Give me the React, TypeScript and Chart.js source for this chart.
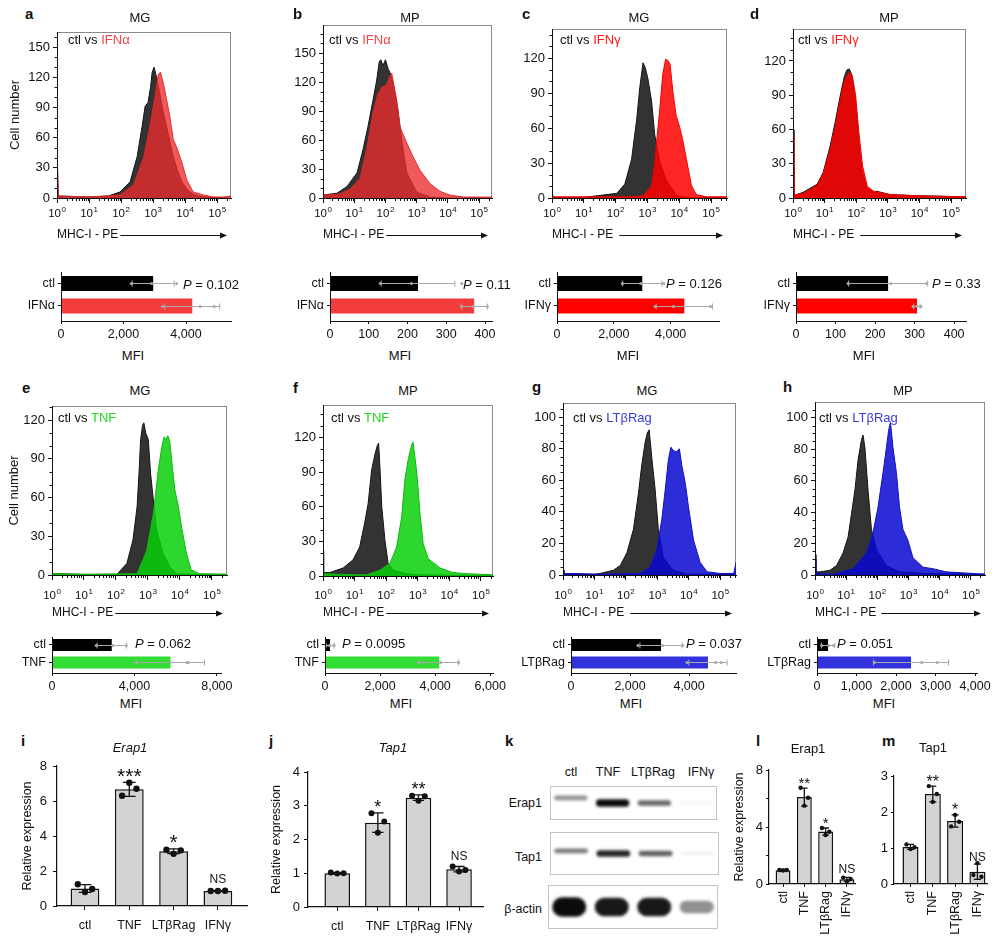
import React, { useEffect, useRef } from "react";
import { Chart, registerables } from "chart.js";

Chart.register(...registerables);

const FONT = '"Liberation Sans", Arial, Helvetica, sans-serif';
const INK = "#111111";

/* ---------- flow cytometry histograms: x = log10(MHC-I PE), y = cell number ---------- */
// a  MG  ctl vs IFNα
const aCtlExp = [0, 0.04, 1.0, 1.6, 1.97, 2.28, 2.5, 2.65, 2.75, 2.84, 2.92, 2.97, 3.03, 3.12, 3.2, 3.3, 3.44, 3.6, 3.75, 3.9, 4.1, 4.3, 4.6, 5.43];
const aCtlCnt = [50, 2, 1, 2, 6, 16, 41, 70, 91, 95, 110, 125, 130, 118, 105, 88, 68, 45, 28, 16, 7, 3, 1, 0];
const aIfnExp = [0, 0.04, 1.0, 1.5, 1.97, 2.39, 2.7, 2.9, 3.06, 3.16, 3.23, 3.34, 3.42, 3.52, 3.63, 3.73, 3.9, 4.05, 4.25, 4.57, 4.88, 5.2, 5.43];
const aIfnCnt = [45, 2, 1, 2, 3, 13, 40, 71, 101, 123, 125, 111, 98, 81, 58, 51, 35, 18, 6, 3, 1, 1, 2];
// b  MP  ctl vs IFNα
const bCtlExp = [0, 0.45, 0.77, 1.09, 1.28, 1.44, 1.6, 1.72, 1.8, 1.85, 1.92, 2.0, 2.08, 2.14, 2.24, 2.4, 2.52, 2.68, 3.0, 3.42, 4.0, 5.41];
const bCtlCnt = [3, 5, 12, 26, 50, 74, 101, 122, 141, 143, 137, 143, 134, 130, 120, 91, 60, 26, 6, 1, 0, 0];
const bIfnExp = [0, 0.5, 0.86, 1.18, 1.4, 1.6, 1.76, 1.9, 2.04, 2.14, 2.2, 2.24, 2.36, 2.46, 2.68, 2.88, 3.1, 3.42, 3.74, 4.06, 4.5, 5.41];
const bIfnCnt = [3, 4, 9, 20, 50, 88, 108, 115, 117, 126, 129, 122, 101, 74, 57, 43, 29, 15, 7, 3, 1, 1];
// c  MG  ctl vs IFNγ
const cCtlExp = [0, 0.04, 1.0, 2.04, 2.29, 2.5, 2.66, 2.76, 2.86, 2.93, 3.01, 3.13, 3.23, 3.39, 3.6, 3.92, 4.3, 5.5];
const cCtlCnt = [3, 0.5, 0.5, 4, 12, 33, 67, 95, 116, 112, 103, 83, 54, 31, 15, 2, 0.5, 0.5];
const cIfnExp = [0, 0.04, 1.0, 2.5, 2.86, 3.13, 3.23, 3.29, 3.39, 3.48, 3.57, 3.64, 3.71, 3.8, 3.9, 4.01, 4.1, 4.22, 4.38, 4.53, 4.84, 5.5];
const cIfnCnt = [5, 1, 1, 1, 2, 10, 30, 49, 77, 106, 119, 118, 115, 91, 71, 61, 51, 34, 11, 3, 1, 1];
// d  MP  ctl vs IFNγ
const dCtlExp = [0, 0.03, 0.12, 0.32, 0.76, 0.95, 1.17, 1.33, 1.49, 1.62, 1.7, 1.78, 1.86, 1.97, 2.07, 2.17, 2.33, 2.54, 2.64, 3.06, 3.9, 5.47];
const dCtlCnt = [60, 3, 3, 5, 12, 22, 45, 66, 89, 106, 112, 113, 108, 86, 51, 25, 9, 5, 6, 3, 2, 1];
const dIfnExp = [0, 0.03, 0.12, 0.32, 0.76, 0.95, 1.17, 1.33, 1.49, 1.62, 1.72, 1.8, 1.88, 1.98, 2.08, 2.2, 2.35, 2.55, 2.7, 3.1, 3.9, 5.47];
const dIfnCnt = [55, 3, 3, 4, 11, 21, 42, 62, 85, 102, 108, 110, 106, 90, 58, 28, 10, 6, 5, 3, 2, 1];
// e  MG  ctl vs TNF
const eCtlExp = [0, 0.04, 1.0, 2.03, 2.34, 2.53, 2.66, 2.72, 2.77, 2.83, 2.87, 2.93, 3.01, 3.08, 3.19, 3.27, 3.47, 3.69, 3.9, 4.5, 5.47];
const eCtlCnt = [2, 1, 0.5, 0.5, 9, 27, 53, 79, 105, 116, 118, 110, 105, 79, 53, 35, 17, 6, 1, 0.5, 0.5];
const eTnfExp = [0, 0.04, 1.0, 2.66, 2.96, 3.17, 3.32, 3.43, 3.5, 3.56, 3.62, 3.68, 3.74, 3.84, 3.95, 4.05, 4.2, 4.35, 4.6, 5.47];
const eTnfCnt = [3, 1, 0.5, 1, 19, 48, 81, 99, 107, 105, 108, 104, 89, 66, 53, 37, 17, 4, 1, 0.5];
// f  MP  ctl vs TNF
const fCtlExp = [0, 0.02, 0.22, 0.64, 0.95, 1.16, 1.32, 1.43, 1.54, 1.65, 1.72, 1.76, 1.8, 1.86, 1.96, 2.06, 2.22, 2.65, 3.07, 5.38];
const fCtlCnt = [22, 3, 3, 7, 14, 25, 46, 63, 92, 106, 113, 115, 95, 60, 31, 11, 5, 2, 1, 0.5];
const fTnfExp = [0, 0.02, 1.0, 1.38, 1.8, 2.12, 2.33, 2.49, 2.59, 2.69, 2.8, 2.85, 2.97, 3.07, 3.17, 3.33, 3.7, 4.11, 4.55, 5.38];
const fTnfCnt = [15, 2, 1, 1, 5, 11, 25, 51, 83, 100, 113, 116, 89, 54, 28, 15, 7, 3, 2, 1];
// g  MG  ctl vs LTβRag
const gCtlExp = [0, 0.03, 1.0, 1.18, 1.6, 1.82, 2.03, 2.24, 2.4, 2.5, 2.61, 2.68, 2.74, 2.82, 2.93, 3.03, 3.19, 3.5, 3.93, 5.5];
const gCtlCnt = [3, 1, 0.5, 1, 3, 6, 14, 29, 52, 69, 84, 90, 92, 75, 54, 29, 11, 3, 0.5, 0.5];
const gLtbExp = [0, 0.03, 1.0, 2.45, 2.77, 2.98, 3.14, 3.25, 3.35, 3.43, 3.5, 3.6, 3.7, 3.78, 3.89, 3.99, 4.15, 4.36, 4.58, 5.0, 5.43, 5.5];
const gLtbCnt = [3, 1, 0.5, 1, 5, 16, 35, 54, 73, 81, 79, 78, 80, 69, 58, 43, 22, 8, 2, 1, 1, 8];
// h  MP  ctl vs LTβRag
const hCtlExp = [0, 0.03, 0.16, 0.48, 0.69, 0.9, 1.06, 1.17, 1.28, 1.38, 1.49, 1.54, 1.6, 1.7, 1.81, 1.97, 2.29, 2.71, 3.5, 5.45];
const hCtlCnt = [13, 2, 2, 3, 6, 14, 24, 39, 54, 73, 86, 89, 81, 54, 29, 16, 6, 2, 1, 0.5];
const hLtbExp = [0, 0.03, 0.58, 1.22, 1.65, 1.86, 2.02, 2.18, 2.29, 2.36, 2.42, 2.5, 2.61, 2.71, 2.82, 2.98, 3.14, 3.46, 3.78, 4.2, 5.45];
const hLtbCnt = [10, 1, 0.5, 4, 14, 27, 43, 65, 81, 92, 97, 81, 65, 43, 29, 22, 11, 5, 4, 2, 0.5];

const decadeTicks = [1, 10, 100, 1000, 10000, 100000];
const decadeExps = ["0", "1", "2", "3", "4", "5"];
const yTicks150 = [0, 30, 60, 90, 120, 150];
const yTicks120 = [0, 30, 60, 90, 120];
const yTicks100 = [0, 20, 40, 60, 80, 100];

/* ---------- MFI bar charts ---------- */
const catsIFNa = ["ctl", "IFNα"];
const catsIFNg = ["ctl", "IFNγ"];
const catsTNF = ["ctl", "TNF"];
const catsLTb = ["ctl", "LTβRag"];
const aMfi = [2950, 4200], aMfiSd = [670, 880], aMfiPts = [[2250, 2900, 3700], [3250, 4450, 4900]];
const bMfi = [227, 372], bMfiSd = [95, 34], bMfiPts = [[130, 210, 340], [340, 370, 406]];
const cMfi = [3000, 4480], cMfiSd = [690, 990], cMfiPts = [[2300, 2950, 3750], [3450, 4100, 5400]];
const dMfi = [233, 306], dMfiSd = [100, 8], dMfiPts = [[132, 240, 330], [296, 306, 316]];
const eMfi = [2900, 5750], eMfiSd = [710, 1650], eMfiPts = [[2150, 2950, 3600], [4100, 6600, 6550]];
const fMfi = [180, 4150], fMfiSd = [150, 700], fMfiPts = [[40, 170, 330], [3400, 4200, 4850]];
const gMfi = [3050, 4640], gMfiSd = [715, 650], gMfiPts = [[2270, 3100, 3780], [3930, 4900, 5090]];
const hMfi = [280, 2380], hMfiSd = [170, 950], hMfiPts = [[120, 300, 420], [1450, 2650, 3040]];
const mfiTicks4k = [0, 2000, 4000];
const mfiTicks400 = [0, 100, 200, 300, 400];
const mfiTicks8k = [0, 4000, 8000];
const mfiTicks6k = [0, 2000, 4000, 6000];
const mfiTicks4kFine = [0, 1000, 2000, 3000, 4000];
const pVals = ["0.102", "0.11", "0.126", "0.33", "0.062", "0.0095", "0.037", "0.051"];

/* ---------- relative expression (qPCR i, j; western quantification l, m) ---------- */
const geneCats = ["ctl", "TNF", "LTβRag", "IFNγ"];
const erapMrna = [1.0, 6.67, 3.13, 0.86];
const erapMrnaSd = [0.22, 0.4, 0.13, 0.02];
const erapMrnaPts = [[1.24, 0.8, 0.97], [6.3, 7.05, 6.7], [3.22, 2.98, 3.18], [0.86, 0.86, 0.87]];
const erapMrnaSig = ["", "***", "*", "NS"];
const tapMrna = [1.0, 2.5, 3.24, 1.12];
const tapMrnaSd = [0.02, 0.29, 0.08, 0.08];
const tapMrnaPts = [[1.02, 0.99, 1.0], [2.78, 2.2, 2.53], [3.3, 3.15, 3.28], [1.2, 1.05, 1.1]];
const tapMrnaSig = ["", "*", "**", "NS"];
const erapProt = [0.97, 6.1, 3.68, 0.33];
const erapProtSd = [0.05, 0.63, 0.25, 0.13];
const erapProtPts = [[0.98, 0.95, 0.98], [6.75, 5.5, 6.05], [3.93, 3.44, 3.67], [0.45, 0.2, 0.35]];
const erapProtSig = ["", "**", "*", "NS"];
const tapProt = [1.03, 2.5, 1.75, 0.34];
const tapProtSd = [0.07, 0.22, 0.17, 0.21];
const tapProtPts = [[1.1, 0.97, 1.02], [2.72, 2.28, 2.5], [1.6, 1.92, 1.73], [0.25, 0.58, 0.2]];
const tapProtSig = ["", "**", "*", "NS"];

/* ---------- western blot band densities (k) ---------- */
const blotLanes = ["ctl", "TNF", "LTβRag", "IFNγ"];
const blotErapInt = [0.45, 1.0, 0.62, 0.05];
const blotErapPos = [0.65, 0.5, 0.5, 0.5];
const blotTapInt = [0.55, 0.9, 0.65, 0.07];
const blotTapPos = [0.56, 0.5, 0.5, 0.5];
const blotActInt = [1.0, 0.95, 0.95, 0.45];
const blotActPos = [0.5, 0.5, 0.5, 0.5];

/* ======================= helpers ======================= */
type Box = { x0: number; y0: number; x1: number; y1: number; l: number; t: number; r: number; b: number };
const rectOf = (b: Box) => ({ left: b.x0 - b.l, top: b.y0 - b.t, width: b.x1 - b.x0 + b.l + b.r, height: b.y1 - b.y0 + b.t + b.b });
const fixX = (b: Box) => (sc: any) => { sc.height = b.b; sc.paddingLeft = 0; sc.paddingRight = 0; };
const fixY = (b: Box) => (sc: any) => { sc.width = b.l; sc.paddingTop = 0; sc.paddingBottom = 0; };
const setTicks = (vals: number[]) => (sc: any) => { sc.ticks = vals.map((v) => ({ value: v })); };
const baseOpts = (b: Box) => ({
  responsive: false,
  animation: false,
  events: [],
  layout: { autoPadding: false, padding: { left: 0, top: b.t, right: b.r, bottom: 0 } },
  plugins: { legend: { display: false }, tooltip: { enabled: false } },
});

const RED_A = "rgba(236,44,44,0.78)", RED_A_LINE = "rgba(225,40,40,0.95)";
const RED_C = "rgba(255,0,0,0.85)", RED_C_LINE = "#ee0000";
const GREEN = "rgba(8,208,8,0.85)", GREEN_LINE = "#10b810";
const BLUE = "rgba(8,8,208,0.85)", BLUE_LINE = "#1010c0";
const CTL_FILL = "rgba(38,38,38,0.94)";

function histChart(o: any) {
  const b: Box = o.box;
  const r = rectOf(b);
  const lhX = 12 * 1.2, lhY = 13 * 1.2;
  const pts = (ex: number[], cn: number[]) => ex.map((e, i) => ({ x: Math.pow(10, e), y: cn[i] }));
  const decor = {
    id: "histDecor",
    beforeDatasetsDraw(chart: any) {
      const { ctx, chartArea: a } = chart;
      ctx.save();
      ctx.strokeStyle = "#8a8a8a";
      ctx.lineWidth = 1;
      ctx.strokeRect(Math.round(a.left) + 0.5, Math.round(a.top) + 0.5, Math.round(a.right - a.left) - 1, Math.round(a.bottom - a.top));
      ctx.restore();
    },
    afterDraw(chart: any) {
      const { ctx, chartArea: a, scales } = chart;
      const xs = scales.x, ys = scales.y;
      ctx.save();
      ctx.strokeStyle = INK;
      ctx.fillStyle = INK;
      ctx.lineWidth = 1;
      ctx.beginPath();
      for (let n = 0; n < 6; n++) {
        for (let k = 2; k < 10; k++) {
          const v = k * Math.pow(10, n);
          if (v > xs.max) continue;
          const px = Math.round(xs.getPixelForValue(v)) + 0.5;
          ctx.moveTo(px, a.bottom);
          ctx.lineTo(px, a.bottom + 3);
        }
      }
      for (let v = o.yMinor; v < ys.max; v += o.yMinor) {
        if (o.yTicks.indexOf(v) >= 0) continue;
        const py = Math.round(ys.getPixelForValue(v)) + 0.5;
        ctx.moveTo(a.left - 2.5, py);
        ctx.lineTo(a.left, py);
      }
      ctx.stroke();
      // decade tick labels: 10 with a raised exponent
      ctx.textAlign = "left";
      ctx.textBaseline = "alphabetic";
      const yb = a.bottom + o.labelBase;
      decadeTicks.forEach((v, i) => {
        const px = xs.getPixelForValue(v);
        ctx.font = `11.5px ${FONT}`;
        const w1 = ctx.measureText("10").width;
        ctx.font = `8px ${FONT}`;
        const w2 = ctx.measureText(decadeExps[i]).width;
        const x0 = px - (w1 + w2 + 0.5) / 2;
        ctx.font = `11.5px ${FONT}`;
        ctx.fillText("10", x0, yb);
        ctx.font = `8px ${FONT}`;
        ctx.fillText(decadeExps[i], x0 + w1 + 0.5, yb - 5);
      });
      // axis title arrow
      ctx.font = `12px ${FONT}`;
      const w = ctx.measureText("MHC-I - PE").width;
      const yA = Math.round(o.titleY - r.top) + 0.5;
      const xs0 = a.left + w + o.arrowGap;
      const xe = a.right - 4;
      ctx.beginPath();
      ctx.moveTo(xs0, yA);
      ctx.lineTo(xe - 5, yA);
      ctx.stroke();
      ctx.beginPath();
      ctx.moveTo(xe, yA);
      ctx.lineTo(xe - 7, yA - 3);
      ctx.lineTo(xe - 7, yA + 3);
      ctx.closePath();
      ctx.fill();
      ctx.restore();
    },
  };
  return {
    rect: r,
    build: () => ({
      type: "line",
      data: {
        datasets: [
          { data: pts(o.trtExp, o.trtCnt), fill: "origin", backgroundColor: o.fill, borderColor: o.line, borderWidth: 1, pointRadius: 0, tension: 0 },
          { data: pts(o.ctlExp, o.ctlCnt), fill: "origin", backgroundColor: CTL_FILL, borderColor: "#141414", borderWidth: 1, pointRadius: 0, tension: 0 },
        ],
      },
      options: {
        ...baseOpts(b),
        scales: {
          x: {
            type: "logarithmic", min: 1, max: Math.pow(10, o.xMaxExp), bounds: "data",
            afterBuildTicks: setTicks(decadeTicks), afterFit: fixX(b),
            ticks: { display: false, autoSkip: false, maxRotation: 0, minRotation: 0 },
            grid: { drawOnChartArea: false, drawTicks: true, tickLength: 5, color: INK, lineWidth: 1 },
            border: { display: true, color: INK, width: 1, z: 1 },
            title: { display: true, text: "MHC-I - PE", align: "start", color: INK, font: { family: FONT, size: 12 }, padding: { top: 0, bottom: r.top + r.height - o.titleY - lhX / 2 } },
          },
          y: {
            type: "linear", min: 0, max: o.yMax, bounds: "data",
            afterBuildTicks: setTicks(o.yTicks), afterFit: fixY(b),
            ticks: { padding: 3, color: INK, font: { family: FONT, size: 13 } },
            grid: { drawOnChartArea: false, tickLength: 4, color: INK },
            border: { color: INK, z: 1 },
            title: o.yTitle
              ? { display: true, text: o.yTitle, color: INK, font: { family: FONT, size: 13 }, padding: { top: o.yTitleX - r.left - lhY / 2, bottom: 0 } }
              : { display: false },
          },
        },
      },
      plugins: [decor],
    }),
  };
}

function hbarChart(o: any) {
  const b: Box = o.box;
  const r = rectOf(b);
  const err = {
    id: "hErr",
    afterDatasetsDraw(chart: any) {
      const { ctx } = chart;
      const xs = chart.scales.x;
      const meta = chart.getDatasetMeta(0);
      ctx.save();
      ctx.strokeStyle = "#a9a9a9";
      ctx.fillStyle = "#a9a9a9";
      ctx.lineWidth = 1;
      meta.data.forEach((el: any, i: number) => {
        const y = Math.round(el.y) + 0.5;
        const lo = xs.getPixelForValue(Math.max(0, o.values[i] - o.sds[i]));
        const hi = xs.getPixelForValue(o.values[i] + o.sds[i]);
        ctx.beginPath();
        ctx.moveTo(lo, y); ctx.lineTo(hi, y);
        ctx.moveTo(lo, y - 3); ctx.lineTo(lo, y + 3);
        ctx.moveTo(hi, y - 3); ctx.lineTo(hi, y + 3);
        ctx.stroke();
        o.pts[i].forEach((v: number) => {
          ctx.beginPath();
          ctx.arc(xs.getPixelForValue(v), y, 1.6, 0, Math.PI * 2);
          ctx.fill();
        });
      });
      ctx.restore();
    },
  };
  return {
    rect: r,
    build: () => ({
      type: "bar",
      data: {
        datasets: [{ data: o.values.map((v: number, i: number) => ({ x: v, y: i })), backgroundColor: o.colors, borderWidth: 0, barPercentage: o.barPct, categoryPercentage: 1 }],
      },
      options: {
        ...baseOpts(b),
        indexAxis: "y",
        scales: {
          x: {
            type: "linear", position: "bottom", min: 0, max: o.xMax, bounds: "data", offset: false,
            afterBuildTicks: setTicks(o.xTicks), afterFit: fixX(b),
            ticks: { autoSkip: false, maxRotation: 0, padding: 3, color: INK, font: { family: FONT, size: 12.5 }, callback: (v: number) => Number(v).toLocaleString("en-US") },
            grid: { offset: false, drawOnChartArea: false, tickLength: 3, color: INK },
            border: { color: INK, z: 1 },
          },
          y: {
            type: "linear", position: "left", reverse: true, min: o.yMin, max: o.yMax, bounds: "data", offset: false,
            afterBuildTicks: setTicks(o.cats.map((_: string, i: number) => i)), afterFit: fixY(b),
            ticks: { autoSkip: false, padding: 3, color: INK, font: { family: FONT, size: 12.5 }, callback: (v: number) => o.cats[v] ?? "" },
            grid: { offset: false, drawOnChartArea: false, tickLength: 3, color: INK },
            border: { color: INK, z: 1 },
          },
        },
      },
      plugins: [err],
    }),
  };
}

const JIT = [-0.25, 0, 0.25];

function vbarChart(o: any) {
  const b: Box = o.box;
  const r = rectOf(b);
  const lhY = 12.5 * 1.2;
  const err = {
    id: "vErr",
    afterDatasetsDraw(chart: any) {
      const { ctx } = chart;
      const ys = chart.scales.y;
      const meta = chart.getDatasetMeta(0);
      ctx.save();
      ctx.strokeStyle = INK;
      ctx.fillStyle = INK;
      ctx.lineWidth = 1.3;
      meta.data.forEach((el: any, i: number) => {
        const x = el.x, w = el.width;
        const lo = ys.getPixelForValue(o.means[i] - o.sds[i]);
        const hi = ys.getPixelForValue(o.means[i] + o.sds[i]);
        const cw = w * 0.22;
        ctx.beginPath();
        ctx.moveTo(x, lo); ctx.lineTo(x, hi);
        ctx.moveTo(x - cw, lo); ctx.lineTo(x + cw, lo);
        ctx.moveTo(x - cw, hi); ctx.lineTo(x + cw, hi);
        ctx.stroke();
        let top = hi;
        o.pts[i].forEach((v: number, k: number) => {
          const py = ys.getPixelForValue(v);
          top = Math.min(top, py);
          ctx.beginPath();
          ctx.arc(x + JIT[k] * w, py, o.dotR, 0, Math.PI * 2);
          ctx.fill();
        });
        const sig = o.sig[i];
        if (sig) {
          const star = sig.charAt(0) === "*";
          ctx.font = `${star ? o.starSize : 12}px ${FONT}`;
          ctx.textAlign = "center";
          ctx.textBaseline = "alphabetic";
          ctx.fillText(sig, x, star ? top + 0.5 : top - o.nsOff);
        }
      });
      ctx.restore();
    },
  };
  return {
    rect: r,
    build: () => ({
      type: "bar",
      data: {
        datasets: [{ data: o.means.map((v: number, i: number) => ({ x: i, y: v })), backgroundColor: "#d3d3d3", borderColor: INK, borderWidth: 1.5, barPercentage: o.barPct, categoryPercentage: 1 }],
      },
      options: {
        ...baseOpts(b),
        scales: {
          x: {
            type: "linear", min: o.xMin, max: o.xMax, bounds: "data", offset: false,
            afterBuildTicks: setTicks(o.cats.map((_: string, i: number) => i)), afterFit: fixX(b),
            ticks: { autoSkip: false, minRotation: o.rotate ? 90 : 0, maxRotation: o.rotate ? 90 : 0, padding: o.rotate ? 4 : 8, color: INK, font: { family: FONT, size: 12.5 }, callback: (v: number) => o.cats[v] ?? "" },
            grid: { offset: false, drawOnChartArea: false, tickLength: o.rotate ? 3 : 4, color: INK },
            border: { color: INK, width: 1.2, z: 1 },
          },
          y: {
            type: "linear", min: 0, max: o.yMax, bounds: "data",
            afterBuildTicks: setTicks(o.yTicks), afterFit: fixY(b),
            ticks: { padding: o.yPad, color: INK, font: { family: FONT, size: 13 }, callback: (v: number) => (o.yLabels.indexOf(v) >= 0 ? String(v) : "") },
            grid: { drawOnChartArea: false, tickLength: o.rotate ? 3 : 4, color: INK },
            border: { color: INK, width: 1.2, z: 1 },
            title: o.yTitle
              ? { display: true, text: o.yTitle, color: INK, font: { family: FONT, size: 12.5 }, padding: { top: o.yTitleX - r.left - lhY / 2, bottom: 0 } }
              : { display: false },
          },
        },
      },
      plugins: [err],
    }),
  };
}

function blotChart(b: Box, intens: number[], pos: number[], halfH: number) {
  const r = rectOf(b);
  const fx = {
    id: "blotFx",
    beforeDatasetsDraw(chart: any) {
      chart.ctx.save();
      chart.ctx.filter = "blur(1.6px)";
    },
    afterDatasetsDraw(chart: any) {
      const { ctx, chartArea: a } = chart;
      ctx.restore();
      ctx.save();
      ctx.strokeStyle = "#c4c4c4";
      ctx.lineWidth = 1;
      ctx.strokeRect(Math.round(a.left) + 0.5, Math.round(a.top) + 0.5, Math.round(a.right - a.left) - 1, Math.round(a.bottom - a.top) - 1);
      ctx.restore();
    },
  };
  return {
    rect: r,
    build: () => ({
      type: "bar",
      data: {
        labels: blotLanes,
        datasets: [{
          data: intens.map((v, i) => [pos[i] - halfH * (0.35 + 0.65 * v), pos[i] + halfH * (0.35 + 0.65 * v)]),
          backgroundColor: intens.map((v) => `rgba(12,12,12,${v})`),
          borderWidth: 0, borderRadius: 10, borderSkipped: false, barPercentage: 0.8, categoryPercentage: 1,
        }],
      },
      options: {
        ...baseOpts(b),
        layout: { autoPadding: false, padding: { left: b.l, top: b.t, right: b.r, bottom: b.b } },
        scales: { x: { display: false }, y: { display: false, min: 0, max: 1 } },
      },
      plugins: [fx],
    }),
  };
}

/* ======================= chart specs ======================= */
const T1 = 235, T2 = 613;
const specs = [
  histChart({ box: { x0: 57, y0: 32, x1: 231, y1: 198, l: 57, t: 6, r: 8, b: 47 }, yMax: 165, yTicks: yTicks150, yMinor: 10, xMaxExp: 5.43, ctlExp: aCtlExp, ctlCnt: aCtlCnt, trtExp: aIfnExp, trtCnt: aIfnCnt, fill: RED_A, line: RED_A_LINE, yTitle: "Cell number", yTitleX: 15, titleY: T1, arrowGap: 2, labelBase: 19.3 }),
  histChart({ box: { x0: 323, y0: 25, x1: 492, y1: 198, l: 40, t: 5, r: 6, b: 47 }, yMax: 179, yTicks: yTicks150, yMinor: 10, xMaxExp: 5.41, ctlExp: bCtlExp, ctlCnt: bCtlCnt, trtExp: bIfnExp, trtCnt: bIfnCnt, fill: RED_A, line: RED_A_LINE, titleY: T1, arrowGap: 2, labelBase: 19.3 }),
  histChart({ box: { x0: 552, y0: 29, x1: 727, y1: 198, l: 40, t: 5, r: 8, b: 47 }, yMax: 145, yTicks: yTicks120, yMinor: 10, xMaxExp: 5.5, ctlExp: cCtlExp, ctlCnt: cCtlCnt, trtExp: cIfnExp, trtCnt: cIfnCnt, fill: RED_C, line: RED_C_LINE, titleY: T1, arrowGap: 6, labelBase: 19.3 }),
  histChart({ box: { x0: 793, y0: 29, x1: 966, y1: 198, l: 40, t: 5, r: 8, b: 47 }, yMax: 148, yTicks: yTicks120, yMinor: 10, xMaxExp: 5.47, ctlExp: dCtlExp, ctlCnt: dCtlCnt, trtExp: dIfnExp, trtCnt: dIfnCnt, fill: RED_C, line: RED_C_LINE, titleY: T1, arrowGap: 6, labelBase: 19.3 }),
  histChart({ box: { x0: 52, y0: 406, x1: 227, y1: 575, l: 52, t: 5, r: 8, b: 47 }, yMax: 131, yTicks: yTicks120, yMinor: 10, xMaxExp: 5.47, ctlExp: eCtlExp, ctlCnt: eCtlCnt, trtExp: eTnfExp, trtCnt: eTnfCnt, fill: GREEN, line: GREEN_LINE, yTitle: "Cell number", yTitleX: 14, titleY: T2, arrowGap: 2, labelBase: 23.5 }),
  histChart({ box: { x0: 323, y0: 405, x1: 493, y1: 576, l: 40, t: 5, r: 6, b: 47 }, yMax: 148, yTicks: yTicks120, yMinor: 10, xMaxExp: 5.38, ctlExp: fCtlExp, ctlCnt: fCtlCnt, trtExp: fTnfExp, trtCnt: fTnfCnt, fill: GREEN, line: GREEN_LINE, titleY: T2, arrowGap: 2, labelBase: 22.5 }),
  histChart({ box: { x0: 563, y0: 403, x1: 736, y1: 575, l: 40, t: 5, r: 8, b: 47 }, yMax: 109, yTicks: yTicks100, yMinor: 5, xMaxExp: 5.5, ctlExp: gCtlExp, ctlCnt: gCtlCnt, trtExp: gLtbExp, trtCnt: gLtbCnt, fill: BLUE, line: BLUE_LINE, titleY: T2, arrowGap: 6, labelBase: 23.5 }),
  histChart({ box: { x0: 815, y0: 402, x1: 985, y1: 575, l: 40, t: 5, r: 8, b: 47 }, yMax: 110, yTicks: yTicks100, yMinor: 5, xMaxExp: 5.45, ctlExp: hCtlExp, ctlCnt: hCtlCnt, trtExp: hLtbExp, trtCnt: hLtbCnt, fill: BLUE, line: BLUE_LINE, titleY: T2, arrowGap: 5, labelBase: 23.5 }),

  hbarChart({ box: { x0: 61, y0: 272, x1: 231, y1: 321, l: 58, t: 3, r: 8, b: 22 }, cats: catsIFNa, values: aMfi, sds: aMfiSd, pts: aMfiPts, colors: ["#000000", "#f43c3c"], xMax: 5440, xTicks: mfiTicks4k, yMin: -0.51, yMax: 1.67, barPct: 0.667 }),
  hbarChart({ box: { x0: 330, y0: 272, x1: 492, y1: 321, l: 58, t: 3, r: 8, b: 22 }, cats: catsIFNa, values: bMfi, sds: bMfiSd, pts: bMfiPts, colors: ["#000000", "#f43c3c"], xMax: 418, xTicks: mfiTicks400, yMin: -0.51, yMax: 1.67, barPct: 0.667 }),
  hbarChart({ box: { x0: 557, y0: 272, x1: 719, y1: 321, l: 58, t: 3, r: 8, b: 22 }, cats: catsIFNg, values: cMfi, sds: cMfiSd, pts: cMfiPts, colors: ["#000000", "#ff0000"], xMax: 5700, xTicks: mfiTicks4k, yMin: -0.51, yMax: 1.67, barPct: 0.667 }),
  hbarChart({ box: { x0: 796, y0: 272, x1: 966, y1: 321, l: 58, t: 3, r: 12, b: 22 }, cats: catsIFNg, values: dMfi, sds: dMfiSd, pts: dMfiPts, colors: ["#000000", "#ff0000"], xMax: 430, xTicks: mfiTicks400, yMin: -0.51, yMax: 1.67, barPct: 0.667 }),
  hbarChart({ box: { x0: 52, y0: 637, x1: 221, y1: 673, l: 52, t: 3, r: 20, b: 22 }, cats: catsTNF, values: eMfi, sds: eMfiSd, pts: eMfiPts, colors: ["#000000", "#33dd33"], xMax: 8200, xTicks: mfiTicks8k, yMin: -0.457, yMax: 1.6, barPct: 0.686 }),
  hbarChart({ box: { x0: 325, y0: 637, x1: 493, y1: 673, l: 58, t: 3, r: 14, b: 22 }, cats: catsTNF, values: fMfi, sds: fMfiSd, pts: fMfiPts, colors: ["#000000", "#33dd33"], xMax: 6100, xTicks: mfiTicks6k, yMin: -0.457, yMax: 1.6, barPct: 0.686 }),
  hbarChart({ box: { x0: 571, y0: 637, x1: 736, y1: 673, l: 58, t: 3, r: 8, b: 22 }, cats: catsLTb, values: gMfi, sds: gMfiSd, pts: gMfiPts, colors: ["#000000", "#3232dc"], xMax: 5590, xTicks: mfiTicks4k, yMin: -0.457, yMax: 1.6, barPct: 0.686 }),
  hbarChart({ box: { x0: 817, y0: 637, x1: 977, y1: 673, l: 58, t: 3, r: 18, b: 22 }, cats: catsLTb, values: hMfi, sds: hMfiSd, pts: hMfiPts, colors: ["#000000", "#3232dc"], xMax: 4050, xTicks: mfiTicks4kFine, yMin: -0.457, yMax: 1.6, barPct: 0.686 }),

  vbarChart({ box: { x0: 57, y0: 766, x1: 247, y1: 906, l: 47, t: 14, r: 6, b: 30 }, cats: geneCats, means: erapMrna, sds: erapMrnaSd, pts: erapMrnaPts, sig: erapMrnaSig, yMax: 8, yTicks: [0, 2, 4, 6, 8], yLabels: [0, 2, 4, 6, 8], yPad: 6, xMin: -0.632, xMax: 3.657, barPct: 0.65, rotate: false, yTitle: "Relative expression", yTitleX: 28, dotR: 3.2, starSize: 21, nsOff: 8 }),
  vbarChart({ box: { x0: 308, y0: 772, x1: 483, y1: 907, l: 43, t: 14, r: 6, b: 30 }, cats: geneCats, means: tapMrna, sds: tapMrnaSd, pts: tapMrnaPts, sig: tapMrnaSig, yMax: 4, yTicks: [0, 1, 2, 3, 4], yLabels: [0, 1, 2, 3, 4], yPad: 4, xMin: -0.72, xMax: 3.59, barPct: 0.63, rotate: false, yTitle: "Relative expression", yTitleX: 277, dotR: 3, starSize: 18, nsOff: 7 }),
  vbarChart({ box: { x0: 769, y0: 770, x1: 855, y1: 884, l: 39, t: 14, r: 4, b: 56 }, cats: geneCats, means: erapProt, sds: erapProtSd, pts: erapProtPts, sig: erapProtSig, yMax: 8, yTicks: [0, 2, 4, 6, 8], yLabels: [0, 4, 8], yPad: 3, xMin: -0.66, xMax: 3.38, barPct: 0.7, rotate: true, yTitle: "Relative expression", yTitleX: 740, dotR: 2.2, starSize: 15, nsOff: 4 }),
  vbarChart({ box: { x0: 894, y0: 776, x1: 987, y1: 884, l: 22, t: 14, r: 6, b: 56 }, cats: geneCats, means: tapProt, sds: tapProtSd, pts: tapProtPts, sig: tapProtSig, yMax: 3, yTicks: [0, 1, 2, 3], yLabels: [0, 1, 2, 3], yPad: 3, xMin: -0.74, xMax: 3.43, barPct: 0.72, rotate: true, dotR: 2.2, starSize: 16, nsOff: 2 }),

  blotChart({ x0: 550, y0: 786, x1: 717, y1: 820, l: 1, t: 1, r: 1, b: 1 }, blotErapInt, blotErapPos, 0.11),
  blotChart({ x0: 550, y0: 832, x1: 719, y1: 875, l: 1, t: 1, r: 1, b: 1 }, blotTapInt, blotTapPos, 0.08),
  blotChart({ x0: 548, y0: 885, x1: 718, y1: 929, l: 1, t: 1, r: 1, b: 1 }, blotActInt, blotActPos, 0.22),
];

function ChartCanvas({ spec }: { spec: any }) {
  const ref = useRef<HTMLCanvasElement | null>(null);
  useEffect(() => {
    const chart = new Chart(ref.current as HTMLCanvasElement, spec.build());
    return () => chart.destroy();
  }, [spec]);
  const r = spec.rect;
  return <canvas ref={ref} width={r.width} height={r.height} style={{ position: "absolute", left: r.left, top: r.top, width: r.width, height: r.height }} />;
}

function Txt({ x, y, children, size = 13, align = "left", bold = false, italic = false, color = INK }: any) {
  const tx = align === "center" ? "-50%" : align === "right" ? "-100%" : "0";
  return (
    <div style={{ position: "absolute", left: x, top: y, transform: `translate(${tx}, -50%)`, fontSize: size, fontWeight: bold ? 700 : 400, fontStyle: italic ? "italic" : "normal", color, whiteSpace: "nowrap", lineHeight: 1 }}>
      {children}
    </div>
  );
}

const letters: [string, number, number][] = [
  ["a", 25, 13], ["b", 293, 13], ["c", 522, 13], ["d", 750, 13],
  ["e", 22, 387], ["f", 293, 387], ["g", 532, 386], ["h", 783, 386],
  ["i", 21, 740], ["j", 269, 740], ["k", 505, 740], ["l", 756, 740], ["m", 882, 740],
];
const titles: [string, number, number, boolean][] = [
  ["MG", 140, 17, false], ["MP", 410, 17, false], ["MG", 639, 17, false], ["MP", 889, 17, false],
  ["MG", 140, 390, false], ["MP", 408, 390, false], ["MG", 647, 390, false], ["MP", 903, 390, false],
  ["Erap1", 130, 747, true], ["Tap1", 393, 747, true], ["Erap1", 808, 748, false], ["Tap1", 933, 747, false],
];
const vsLabels: [string, string, number, number][] = [
  ["IFNα", "#f04848", 68, 39], ["IFNα", "#f04848", 329, 39], ["IFNγ", "#ff1a1a", 560, 39], ["IFNγ", "#ff1a1a", 798, 39],
  ["TNF", "#22d622", 58, 417], ["TNF", "#22d622", 331, 417], ["LTβRag", "#3a3ae0", 573, 417], ["LTβRag", "#3a3ae0", 819, 417],
];
const pPos: [number, number][] = [[183, 284], [463, 284], [666, 283], [932, 283], [135, 643], [342, 643], [686, 643], [837, 643]];
const mfiPos: [number, number][] = [[133, 355], [400, 355], [628, 355], [864, 355], [131, 703], [401, 703], [631, 703], [884, 703]];
const laneX = [571, 608, 653, 701];
const blotRows: [string, number][] = [["Erap1", 803], ["Tap1", 857], ["β-actin", 909]];

export default function App() {
  return (
    <div style={{ position: "absolute", left: 0, top: 0, width: 1000, height: 938, background: "#ffffff", fontFamily: FONT, color: INK, overflow: "hidden" }}>
      {specs.map((s, i) => (
        <ChartCanvas key={i} spec={s} />
      ))}
      {letters.map(([t, x, y]) => (
        <Txt key={"L" + t} x={x} y={y} size={15} bold>{t}</Txt>
      ))}
      {titles.map(([t, x, y, it], i) => (
        <Txt key={"T" + i} x={x} y={y} align="center" italic={it}>{t}</Txt>
      ))}
      {vsLabels.map(([t, c, x, y], i) => (
        <Txt key={"V" + i} x={x} y={y}>ctl vs <span style={{ color: c }}>{t}</span></Txt>
      ))}
      {pPos.map(([x, y], i) => (
        <Txt key={"P" + i} x={x} y={y}><i>P</i> = {pVals[i]}</Txt>
      ))}
      {mfiPos.map(([x, y], i) => (
        <Txt key={"M" + i} x={x} y={y} align="center">MFI</Txt>
      ))}
      {blotLanes.map((t, i) => (
        <Txt key={"B" + i} x={laneX[i]} y={772} align="center" size={12.5}>{t}</Txt>
      ))}
      {blotRows.map(([t, y]) => (
        <Txt key={"R" + t} x={542} y={y} align="right" size={12.5}>{t}</Txt>
      ))}
    </div>
  );
}
